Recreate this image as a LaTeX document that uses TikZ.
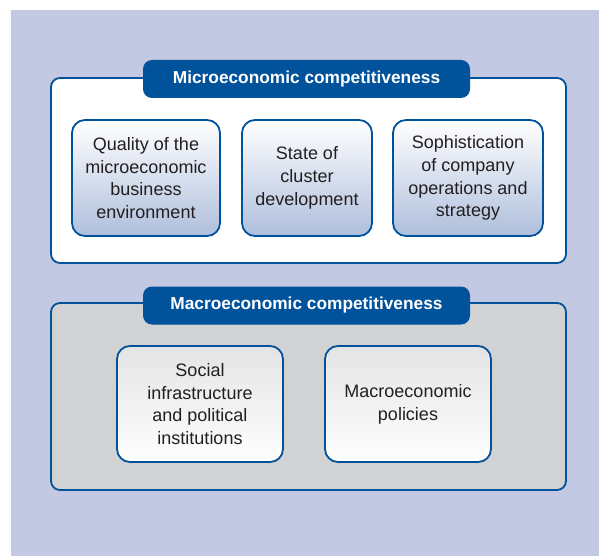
\documentclass[tikz,border=0pt]{standalone}
\usepackage{fontspec}
\setmainfont{Liberation Sans}
\usepackage{tikz}
\usetikzlibrary{positioning}

\definecolor{fdblue}{RGB}{0,82,155}
\definecolor{fdlav}{RGB}{195,201,227}
\definecolor{fdgrey}{RGB}{209,210,212}
\definecolor{fdtext}{RGB}{35,31,32}

\tikzset{
  panel/.style={draw=fdblue,line width=1.8pt,rounded corners=9pt,rectangle,
    minimum width=515pt},
  tab/.style={fill=fdblue,rounded corners=9pt,rectangle,minimum width=327pt,
    minimum height=38pt,text=white,font=\bfseries\fontsize{17.3}{20}\selectfont},
  factor/.style={draw=fdblue,line width=1.8pt,rounded corners=13pt,rectangle,
    minimum height=116pt,align=center,text=fdtext,
    font=\fontsize{18}{22.8}\selectfont},
  microfactor/.style={factor,top color=white,bottom color=fdlav!85!fdblue!90},
  macrofactor/.style={factor,top color=fdgrey!60,bottom color=white}
}

\begin{document}
\begin{tikzpicture}[x=1pt,y=-1pt]

  \useasboundingbox (0,0) rectangle (599,556);
  \fill [fdlav] (11,10) rectangle (599,556);

  \node [panel,fill=white,minimum height=185pt] (micro) at (308.5,170.5) {};
  \node [tab] (microlab) at (306.5,79) {Microeconomic competitiveness};

  \node [microfactor,minimum width=148pt] (quality) at (146,178)
    {Quality of the\\microeconomic\\business\\environment};
  \node [microfactor,minimum width=130pt] (cluster) at (307,178)
    {State of\\cluster\\development};
  \node [microfactor,minimum width=150pt] (strategy) at (468,178)
    {Sophistication\\of company\\operations and\\strategy};

  \node [panel,fill=fdgrey,minimum height=187pt] (macro) at (308.5,396.5) {};
  \node [tab] (macrolab) at (306.5,305.5) {Macroeconomic competitiveness};

  \node [macrofactor,minimum width=166pt] (social) at (200,404)
    {Social\\infrastructure\\and political\\institutions};
  \node [macrofactor,minimum width=166pt] (policies) at (408,404)
    {Macroeconomic\\policies};

\end{tikzpicture}
\end{document}
